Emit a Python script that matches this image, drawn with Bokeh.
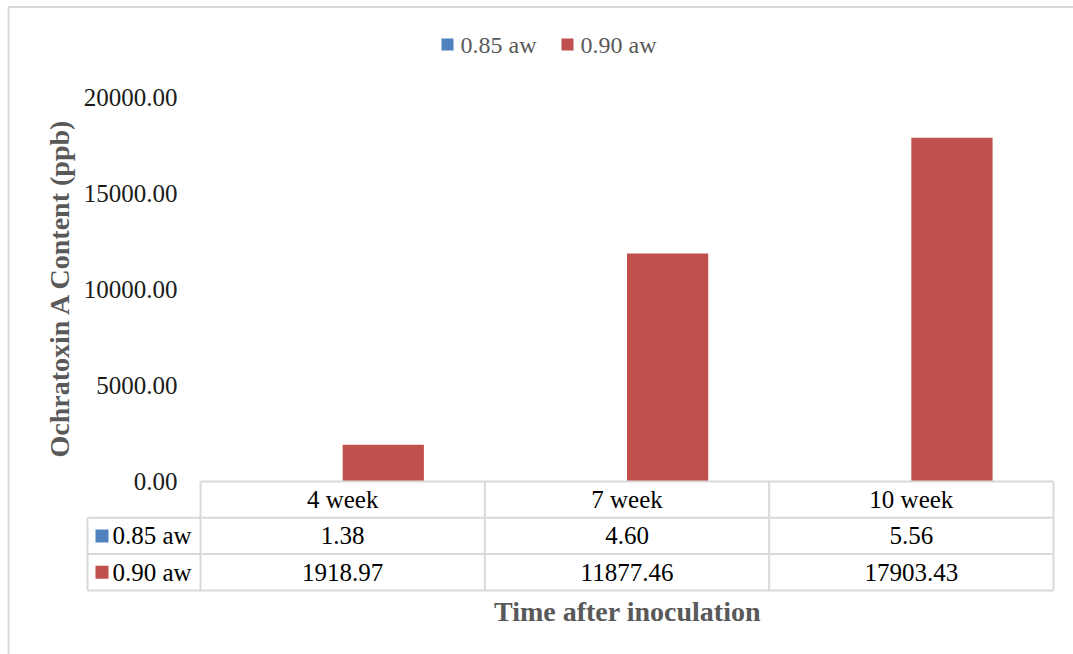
import math

from bokeh.core.properties import value
from bokeh.embed import file_html
from bokeh.models import ColumnDataSource, Range1d
from bokeh.plotting import figure
from bokeh.resources import INLINE

# ---- data -------------------------------------------------------------
categories = ["4 week", "7 week", "10 week"]
series_names = ["0.85 aw", "0.90 aw"]
aw_085 = [1.38, 4.60, 5.56]
aw_090 = [1918.97, 11877.46, 17903.43]
y_ticks = [0, 5000, 10000, 15000, 20000]
y_max = 20000

series_values = [aw_085, aw_090]
series_colors = ["#4F81BD", "#C0504D"]

# ---- page geometry (pixels) -------------------------------------------
W, H = 1073, 654
PLOT_L, PLOT_R = 200, 1053     # category band
PLOT_T, PLOT_B = 97, 481       # y_max .. 0
TABLE_L = 87                   # left edge of the series-name column
ROW_H = 36.3                   # height of one data-table row

x_per_px = len(categories) / (PLOT_R - PLOT_L)
y_per_px = y_max / (PLOT_B - PLOT_T)


def dx(px):
    return (px - PLOT_L) * x_per_px


def dy(py):
    return (PLOT_B - py) * y_per_px


p = figure(
    width=W, height=H,
    x_range=Range1d(dx(0), dx(W)),
    y_range=Range1d(dy(H), dy(0)),
    x_axis_location=None, y_axis_location=None,
    min_border=0, output_backend="svg", toolbar_location=None,
    background_fill_color="white", border_fill_color="white",
)
p.grid.visible = False
p.outline_line_color = None

SERIF = value("Liberation Serif")
GRID_COL = "#D9D9D9"
TEXT_GRAY = "#595959"

# ---- outer chart border (top and left edges) --------------------------
p.segment(x0=[dx(8), dx(8)], y0=[dy(6.5), dy(6.5)],
          x1=[dx(W), dx(8)], y1=[dy(6.5), dy(H)],
          line_color=GRID_COL, line_width=2)

# ---- clustered bars ---------------------------------------------------
gap = 1.5                                   # gap width relative to one bar
bar_w = 1 / (len(series_values) + gap)
for k, (vals, col) in enumerate(zip(series_values, series_colors)):
    offset = (k - (len(series_values) - 1) / 2) * bar_w
    src = ColumnDataSource(dict(
        x=[i + 0.5 + offset for i in range(len(categories))],
        top=vals,
    ))
    p.vbar(x="x", top="top", bottom=0, width=bar_w, source=src,
           fill_color=col, line_color=None)

# ---- y tick labels ----------------------------------------------------
p.text(x=[dx(177)] * len(y_ticks), y=y_ticks,
       text=[f"{t:.2f}" for t in y_ticks],
       text_font=SERIF, text_font_size="25px", text_color="#1A1A1A",
       text_align="right", text_baseline="middle")

# ---- data table -------------------------------------------------------
n_rows = 1 + len(series_values)
row_edges = [PLOT_B + r * ROW_H for r in range(n_rows + 1)]
col_edges = [PLOT_L + c * (PLOT_R - PLOT_L) / len(categories)
             for c in range(len(categories) + 1)]

hx0, hy0, hx1, hy1 = [], [], [], []
# horizontal rules
for r, ry in enumerate(row_edges):
    left = PLOT_L if r == 0 else TABLE_L
    hx0.append(dx(left)); hx1.append(dx(PLOT_R))
    hy0.append(dy(ry)); hy1.append(dy(ry))
# vertical rules
for cx in col_edges:
    hx0.append(dx(cx)); hx1.append(dx(cx))
    hy0.append(dy(row_edges[0])); hy1.append(dy(row_edges[-1]))
hx0.append(dx(TABLE_L)); hx1.append(dx(TABLE_L))
hy0.append(dy(row_edges[1])); hy1.append(dy(row_edges[-1]))
p.segment(x0=hx0, y0=hy0, x1=hx1, y1=hy1, line_color=GRID_COL, line_width=2)

row_mid = [dy((row_edges[r] + row_edges[r + 1]) / 2) for r in range(n_rows)]
cat_x = [i + 0.5 for i in range(len(categories))]

# header row: category names
p.text(x=cat_x, y=[row_mid[0]] * len(categories), text=categories,
       text_font=SERIF, text_font_size="25px", text_color="black",
       text_align="center", text_baseline="middle")

# series rows: key swatch, name and values
for k, (name, vals, col) in enumerate(zip(series_names, series_values,
                                          series_colors)):
    ym = row_mid[k + 1]
    p.scatter(x=[dx(101.5)], y=[ym], marker="square", size=13,
              fill_color=col, line_color=None)
    p.text(x=[dx(112)], y=[ym], text=[name],
           text_font=SERIF, text_font_size="25px", text_color="black",
           text_align="left", text_baseline="middle")
    p.text(x=cat_x, y=[ym] * len(vals), text=[f"{v:.2f}" for v in vals],
           text_font=SERIF, text_font_size="25px", text_color="black",
           text_align="center", text_baseline="middle")

# ---- legend -----------------------------------------------------------
legend_y = dy(44)
legend_sw = [447, 567]
for name, col, sx in zip(series_names, series_colors, legend_sw):
    p.scatter(x=[dx(sx)], y=[legend_y], marker="square", size=12,
              fill_color=col, line_color=None)
    p.text(x=[dx(sx + 13)], y=[legend_y], text=[name],
           text_font=SERIF, text_font_size="24px", text_color=TEXT_GRAY,
           text_align="left", text_baseline="middle")

# ---- axis titles ------------------------------------------------------
p.text(x=[dx(627)], y=[dy(611)], text=["Time after inoculation"],
       text_font=SERIF, text_font_size="28px", text_font_style="bold",
       text_color=TEXT_GRAY, text_align="center", text_baseline="middle")
p.text(x=[dx(59)], y=[dy(287)], text=["Ochratoxin A Content (ppb)"],
       angle=math.pi / 2,
       text_font=SERIF, text_font_size="28px", text_font_style="bold",
       text_color=TEXT_GRAY, text_align="center", text_baseline="middle")

open("out.html", "w").write(file_html(p, INLINE))
